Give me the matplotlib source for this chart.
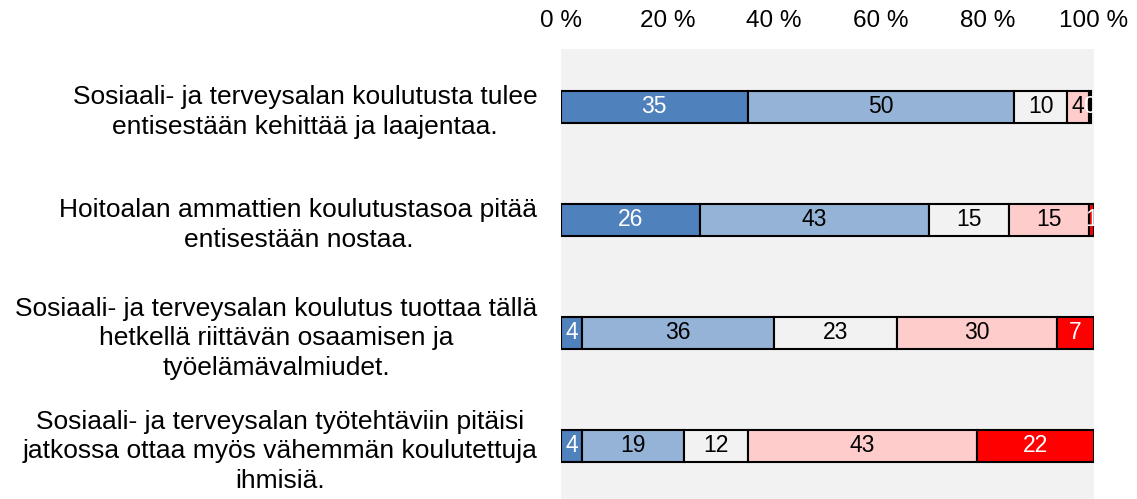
import matplotlib
matplotlib.use("Agg")
import matplotlib.pyplot as plt
import numpy as np

plt.rcParams['font.family'] = ['Liberation Sans', 'DejaVu Sans']

categories = [
    "Sosiaali- ja terveysalan koulutusta tulee\nentisestään kehittää ja laajentaa.",
    "Hoitoalan ammattien koulutustasoa pitää\nentisestään nostaa.",
    "Sosiaali- ja terveysalan koulutus tuottaa tällä\nhetkellä riittävän osaamisen ja\ntyöelämävalmiudet.",
    "Sosiaali- ja terveysalan työtehtäviin pitäisi\njatkossa ottaa myös vähemmän koulutettuja\nihmisiä.",
]
s1 = [35, 26, 4, 4]
s2 = [50, 43, 36, 19]
s3 = [10, 15, 23, 12]
s4 = [4, 15, 30, 43]
s5 = [0.4, 1, 7, 22]
series = [s1, s2, s3, s4, s5]
colors = ['#4F81BD', '#95B3D7', '#F2F2F2', '#FFCCCC', '#FF0000']
text_colors = ['white', 'black', 'black', 'black', 'white']
xticks = [0, 20, 40, 60, 80, 100]
xticklabels = ['0 %', '20 %', '40 %', '60 %', '80 %', '100 %']

fig = plt.figure(figsize=(11.37, 4.99), dpi=100)
ax = fig.add_axes([561/1137, 0, (1094-561)/1137, 1-49/499])
ax.set_facecolor('#F2F2F2')

y = np.arange(len(categories))
left = np.zeros(len(categories))
for vals, c, tc in zip(series, colors, text_colors):
    vals = np.array(vals, dtype=float)
    ax.barh(y, vals, left=left, height=0.28, color=c, edgecolor='black', linewidth=1.5, zorder=3)
    for yi, l, v in zip(y, left, vals):
        ax.text(l + v/2, yi, f"{round(v):d}", ha='center', va='center', color=tc,
                fontsize=16.5, zorder=4, clip_on=False)
    left += vals

ax.set_xlim(0, 100)
ax.set_ylim(3.47, -0.513)
ax.xaxis.tick_top()
ax.set_xticks(xticks)
ax.set_xticklabels(xticklabels, fontsize=17.5)
ax.set_yticks(y)
ax.set_yticklabels(categories, fontsize=19, multialignment='center', linespacing=1.3)
ax.tick_params(axis='x', length=0, pad=12)
ax.tick_params(axis='y', length=0, pad=17)
for sp in ax.spines.values():
    sp.set_visible(False)

fig.savefig('out.png', dpi=100)
